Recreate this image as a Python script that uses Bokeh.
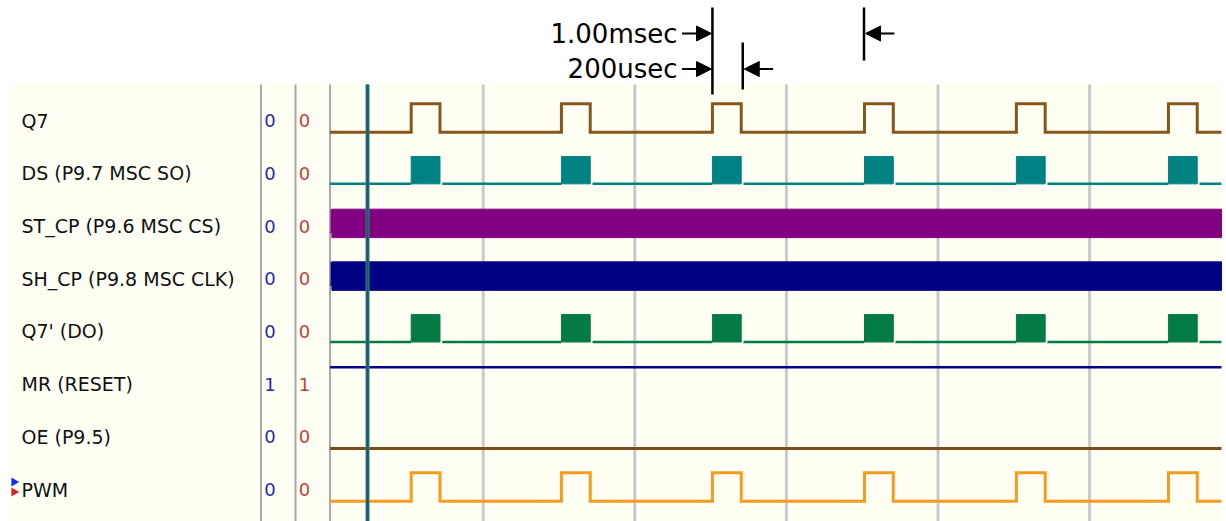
import numpy as np
from bokeh.plotting import figure
from bokeh.models import Range1d, Arrow, NormalHead, BoxAnnotation
from bokeh.embed import file_html
from bokeh.resources import INLINE
from bokeh.core.properties import value

# ---------------- data ----------------
signals = ["Q7", "DS (P9.7 MSC SO)", "ST_CP (P9.6 MSC CS)", "SH_CP (P9.8 MSC CLK)",
           "Q7' (DO)", "MR (RESET)", "OE (P9.5)", "PWM"]
value_a = [0, 0, 0, 0, 0, 1, 0, 0]
value_b = [0, 0, 0, 0, 0, 1, 0, 0]
kinds = ["pulse", "burst", "bar", "bar", "burst", "high", "low", "pulse"]
colors = ["#86561A", "#008282", "#820082", "#000082", "#047A44", "#00008C", "#7A4E14", "#F79A1E"]
pulse_rise_ms = [0.525, 1.516, 2.512, 3.515, 4.517, 5.52]
pulse_width_ms = 0.19
trace_start_ms = -0.01
trace_end_ms = 5.87
grid_ms = [1, 2, 3, 4, 5]
cursor_ms = 0.237
meas_start_ms = 2.512
meas_spans_ms = [1.00, 0.20]
meas_labels = ["1.00msec", "200usec"]

# ---------------- layout helpers (page pixels -> data) ----------------
PX0, PX_PER_MS = 331.1, 151.6
PY0, PY_PER_ROW = 131.7, 52.71
HIGH = -0.54  # high level offset (rows)


def tx(px):
    return (px - PX0) / PX_PER_MS


def ry(py):
    return (py - PY0) / PY_PER_ROW


W, H = 1226, 521
p = figure(width=W, height=H, output_backend="svg", toolbar_location=None,
           x_range=Range1d(tx(0), tx(W)), y_range=Range1d(ry(H), ry(0)),
           min_border=0, background_fill_color="white", border_fill_color="white")
p.axis.visible = False
p.grid.visible = False
p.outline_line_color = None

# panel background
p.add_layout(BoxAnnotation(left=tx(10), right=tx(1220), top=ry(83.5), bottom=ry(530),
                           fill_color="#FFFFF4", fill_alpha=1.0, line_color=None, level="underlay"))

# grid lines
p.segment(x0=grid_ms, x1=grid_ms, y0=[ry(84)] * len(grid_ms), y1=[ry(530)] * len(grid_ms),
          line_color="#C9C9C9", line_width=3)
# column separators
sep_x = [tx(260.5), tx(295), tx(329.5)]
p.segment(x0=sep_x, x1=sep_x, y0=[ry(84)] * 3, y1=[ry(530)] * 3, line_color="#A9A9A9", line_width=2)

rows = np.arange(len(signals))

# signal names and values
p.text(x=[tx(21)] * len(signals), y=rows - 0.22, text=signals, text_font=value("DejaVu Sans"),
       text_font_size="19px", text_baseline="middle", text_align="left", text_color="#111111")
p.text(x=[tx(269.5)] * len(signals), y=rows - 0.22, text=[str(v) for v in value_a],
       text_font=value("DejaVu Sans"), text_font_size="18px", text_baseline="middle",
       text_align="center", text_color="#2A2AA8")
p.text(x=[tx(304)] * len(signals), y=rows - 0.22, text=[str(v) for v in value_b],
       text_font=value("DejaVu Sans"), text_font_size="18px", text_baseline="middle",
       text_align="center", text_color="#C04040")

# waveforms
for i, (kind, col) in enumerate(zip(kinds, colors)):
    lo, hi = i, i + HIGH
    if kind == "pulse":
        xs, ys = [trace_start_ms], [lo]
        for r in pulse_rise_ms:
            f = r + pulse_width_ms
            xs += [r, r, f, f]
            ys += [lo, hi, hi, lo]
        xs.append(trace_end_ms)
        ys.append(lo)
        p.line(xs, ys, line_color=col, line_width=3, line_join="miter")
    elif kind == "burst":
        x0s, x1s = [], []
        prev = trace_start_ms
        for r in pulse_rise_ms:
            x0s.append(prev)
            x1s.append(r)
            prev = r + pulse_width_ms + 0.015
        x0s.append(prev)
        x1s.append(trace_end_ms)
        p.segment(x0=x0s, x1=x1s, y0=[lo - 0.02] * len(x0s), y1=[lo - 0.02] * len(x0s),
                  line_color=col, line_width=2.5)
        p.quad(left=pulse_rise_ms, right=[r + pulse_width_ms for r in pulse_rise_ms],
               top=[hi] * len(pulse_rise_ms), bottom=[lo - 0.02] * len(pulse_rise_ms),
               fill_color=col, line_color=col, line_width=1)
    elif kind == "bar":
        p.line([trace_start_ms, trace_start_ms + 0.008, trace_start_ms + 0.008],
               [lo - 0.1, lo - 0.1, hi], line_color=col, line_width=1.5)
        p.quad(left=[trace_start_ms + 0.012], right=[trace_end_ms], top=[hi], bottom=[lo],
               fill_color=col, line_color=col, line_width=1)
    elif kind == "high":
        p.line([trace_start_ms, trace_end_ms], [hi, hi], line_color=col, line_width=2.5)
    elif kind == "low":
        p.line([trace_start_ms, trace_end_ms], [lo, lo], line_color=col, line_width=3)

# cursor
p.segment(x0=[cursor_ms], x1=[cursor_ms], y0=[ry(84)], y1=[ry(530)], line_color="#2E8A5A", line_width=4)
p.segment(x0=[cursor_ms], x1=[cursor_ms], y0=[ry(84)], y1=[ry(530)], line_color="#1D4F86", line_width=2)

# PWM marker triangles
p.scatter(x=[tx(13.5)], y=[ry(481.5)], marker="triangle", size=9, angle=-np.pi / 2,
          fill_color="#1030F0", line_color=None)
p.scatter(x=[tx(13.5)], y=[ry(491.5)], marker="triangle", size=9, angle=-np.pi / 2,
          fill_color="#E02020", line_color=None)

# measurement annotation
arrow_len = 0.2
label_gap = 0.23
p.segment(x0=[meas_start_ms], x1=[meas_start_ms], y0=[ry(7)], y1=[ry(94)], line_color="black", line_width=2.5)
ends = [meas_start_ms + s for s in meas_spans_ms]
p.segment(x0=[ends[0]], x1=[ends[0]], y0=[ry(7)], y1=[ry(60)], line_color="black", line_width=2.5)
p.segment(x0=[ends[1]], x1=[ends[1]], y0=[ry(42)], y1=[ry(89)], line_color="black", line_width=2.5)
arrow_y = [ry(33), ry(68.5)]
for k in range(2):
    p.add_layout(Arrow(end=NormalHead(size=15, fill_color="black", line_color="black"),
                       x_start=meas_start_ms - arrow_len, y_start=arrow_y[k],
                       x_end=meas_start_ms - 0.006, y_end=arrow_y[k], line_width=2))
    p.add_layout(Arrow(end=NormalHead(size=15, fill_color="black", line_color="black"),
                       x_start=ends[k] + arrow_len, y_start=arrow_y[k],
                       x_end=ends[k] + 0.01, y_end=arrow_y[k], line_width=2))
p.text(x=[meas_start_ms - label_gap] * 2, y=arrow_y, text=meas_labels,
       text_font=value("DejaVu Sans"), text_font_size="26px", text_baseline="middle",
       text_align="right", text_color="black")

open("out.html", "w").write(file_html(p, INLINE))
